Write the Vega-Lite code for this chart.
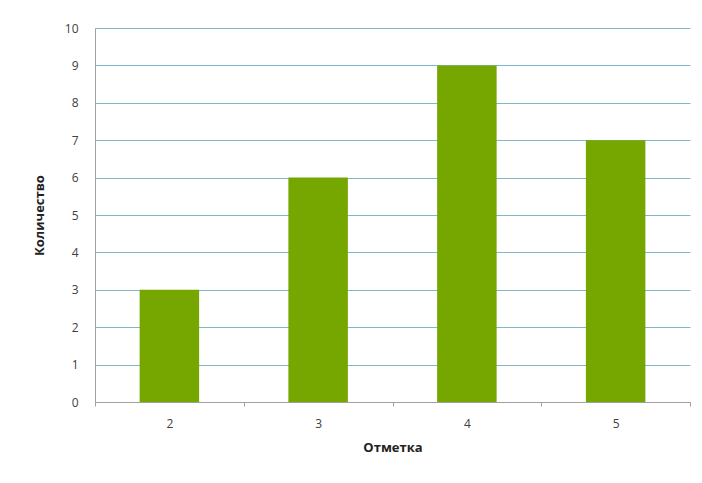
{
  "$schema": "https://vega.github.io/schema/vega-lite/v6.json",
  "width": 595,
  "height": 374,
  "autosize": {"type": "none"},
  "padding": {"left": 95, "top": 28, "right": 12, "bottom": 81},
  "background": "white",
  "config": {
    "view": {"stroke": null},
    "font": "Open Sans"
  },
  "data": {
    "values": [
      {"mark": "2", "count": 3},
      {"mark": "3", "count": 6},
      {"mark": "4", "count": 9},
      {"mark": "5", "count": 7}
    ]
  },
  "mark": {"type": "bar", "color": "#76A600", "width": {"band": 0.4}},
  "encoding": {
    "x": {
      "field": "mark",
      "type": "nominal",
      "title": "Отметка",
      "scale": {"paddingInner": 0, "paddingOuter": 0},
      "axis": {
        "labelAngle": 0,
        "labelFontSize": 12,
        "labelColor": "#404040",
        "labelPadding": 12,
        "tickBand": "extent",
        "ticks": true,
        "tickSize": 4,
        "tickColor": "#A0A0A0",
        "domainColor": "#A0A0A0",
        "titleFontSize": 13,
        "titleFontWeight": "bold",
        "titleColor": "#222222",
        "titlePadding": 12
      }
    },
    "y": {
      "field": "count",
      "type": "quantitative",
      "title": "Количество",
      "scale": {"domain": [0, 10], "nice": false},
      "axis": {
        "values": [0, 1, 2, 3, 4, 5, 6, 7, 8, 9, 10],
        "labelFontSize": 12,
        "labelColor": "#404040",
        "labelPadding": 17,
        "ticks": false,
        "domainColor": "#A0A0A0",
        "gridColor": "#7DB9CC",
        "gridOpacity": 1,
        "gridWidth": 1.2,
        "titleFontSize": 13,
        "titleFontWeight": "bold",
        "titleColor": "#222222",
        "titlePadding": 18
      }
    }
  }
}
